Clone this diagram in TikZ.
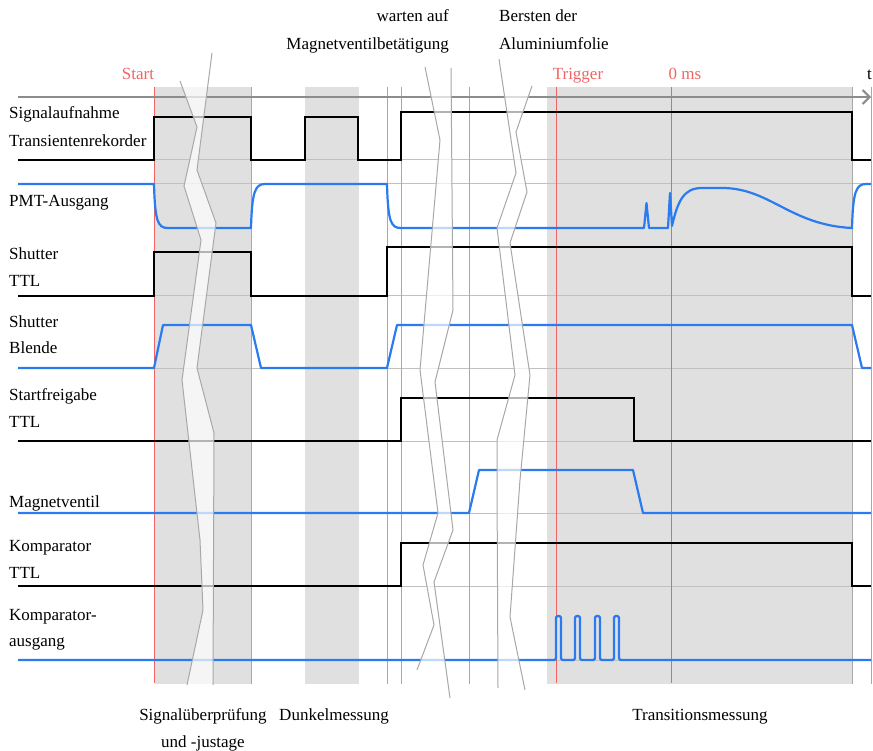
\documentclass[tikz,border=0pt]{standalone}
\usepackage{fontspec}
\setmainfont{Liberation Serif}
\usepackage{tikz}
\usetikzlibrary{arrows.meta}
\definecolor{sigblue}{RGB}{42, 122, 240}
\definecolor{phasegray}{RGB}{224, 224, 224}
\definecolor{markred}{RGB}{240, 100, 100}
\definecolor{linegray}{RGB}{168, 168, 168}
\definecolor{reflgray}{RGB}{192, 192, 192}

\begin{document}
\begin{tikzpicture}[x=1pt, y=-1pt, font=\fontsize{17}{20}\selectfont,
  ttl/.style={line width=2.2pt, black},
  analog/.style={line width=2.2pt, sigblue, line join=round},
  refline/.style={line width=1pt, reflgray},
  vline/.style={line width=1pt, linegray},
  breakband/.style={fill=white, fill opacity=0.7},
  breakline/.style={line width=1pt, linegray},
  sig/.style={anchor=base west, inner sep=0pt},
  timemark/.style={markred, anchor=base, inner sep=0pt},
  phase/.style={anchor=base, inner sep=0pt}]
\useasboundingbox (0,0) rectangle (873,751);

% Phases
\fill[phasegray] (155,87) rectangle (251,684);
\fill[phasegray] (305,87) rectangle (359,684);
\fill[phasegray] (547,87) rectangle (852,684);

% Reference levels and time marks
\foreach \y in {160,184,296,368,441,513,586,660}
  \draw[refline] (18,\y) -- (871,\y);
\foreach \x in {251,387,401,469,852,871}
  \draw[vline] (\x,87) -- (\x,684);
\foreach \x in {154,556,671}
  \draw[markred, line width=1pt] (\x,87) -- (\x,683);

% Time axis
\draw[line width=2pt, gray!90, -{Straight Barb[length=7pt,width=14pt]}] (18,97) -- (871,97);

% Signals
\draw[ttl] (18,160) -- (154,160) -- (154,117) -- (251,117) -- (251,160) -- (305,160)
  -- (305,117) -- (358,117) -- (358,160) -- (401,160) -- (401,112) -- (852,112)
  -- (852,160) -- (871,160);
\draw[analog] (18,184) -- (154,184) .. controls (155,222) and (158,228) .. (168,228)
  -- (251,228) .. controls (252,192) and (255,184) .. (265,184) -- (387,184)
  .. controls (388,222) and (391,228) .. (401,228) -- (644,228) -- (646.5,203)
  -- (649,228) -- (668,228) -- (670,193) -- (672,226)
  .. controls (678,200) and (684,188) .. (702,188) -- (722,188)
  .. controls (770,188) and (790,225) .. (852,228)
  .. controls (853,192) and (856,184) .. (866,184) -- (871,184);
\draw[ttl] (18,296) -- (154,296) -- (154,252) -- (251,252) -- (251,296) -- (387,296)
  -- (387,247) -- (852,247) -- (852,296) -- (871,296);
\draw[analog] (18,368) -- (154,368) -- (163,325) -- (251,325) -- (261,368) -- (387,368)
  -- (397,325) -- (852,325) -- (862,368) -- (871,368);
\draw[ttl] (18,441) -- (401,441) -- (401,398) -- (634,398) -- (634,441) -- (871,441);
\draw[analog] (18,513) -- (469,513) -- (479,470) -- (633,470) -- (643,513) -- (871,513);
\draw[ttl] (18,586) -- (401,586) -- (401,543) -- (852,543) -- (852,586) -- (871,586);
\draw[analog, rounded corners=1.5pt] (18,660)
  \foreach \p in {556,575,595,614} { -- (\p,660) -- (\p,616) -- ({\p+5},616) -- ({\p+5},660) }
  -- (871,660);

% Axis breaks
\fill[breakband] (180,81) -- (197,127) -- (184,186) -- (201,240) -- (182,380) -- (200,540)
  -- (203,610) -- (187,685) -- (213,685) -- (214,433) -- (197,368) -- (216,223)
  -- (197,170) -- (212,53) -- cycle;
\draw[breakline] (180,81) -- (197,127) -- (184,186) -- (201,240) -- (182,380) -- (200,540)
  -- (203,610) -- (187,685);
\draw[breakline] (212,53) -- (197,170) -- (216,223) -- (197,368) -- (214,433) -- (213,685);

\fill[breakband] (425,67) -- (440,140) -- (420,370) -- (438,513) -- (423,565) -- (434,625)
  -- (417,670) -- (450,698) -- (434,582) -- (453,530) -- (435,382) -- (453,310)
  -- (451,68) -- cycle;
\draw[breakline] (425,67) -- (440,140) -- (420,370) -- (438,513) -- (423,565) -- (434,625)
  -- (417,670);
\draw[breakline] (451,68) -- (453,310) -- (435,382) -- (453,530) -- (434,582) -- (450,698);

\fill[breakband] (499,59) -- (516,173) -- (497,228) -- (515,375) -- (497,440) -- (497,480)
  -- (498,688) -- (525,690) -- (510,617) -- (520,480) -- (530,375) -- (510,243)
  -- (527,192) -- (516,132) -- (532,86) -- cycle;
\draw[breakline] (499,59) -- (516,173) -- (497,228) -- (515,375) -- (497,440) -- (497,480)
  -- (498,688);
\draw[breakline] (532,86) -- (516,132) -- (527,192) -- (510,243) -- (530,375) -- (520,480)
  -- (510,617) -- (525,690);

% Signal names
\node[sig] (rec1) at (9,119) {Signalaufnahme};
\node[sig] (rec2) at (9,147) {Transientenrekorder};
\node[sig] (pmt) at (9,207) {PMT-Ausgang};
\node[sig] (shttl1) at (9,260) {Shutter};
\node[sig] (shttl2) at (9,287) {TTL};
\node[sig] (shbl1) at (9,328) {Shutter};
\node[sig] (shbl2) at (9,354) {Blende};
\node[sig] (sf1) at (9,400) {Startfreigabe};
\node[sig] (sf2) at (9,427) {TTL};
\node[sig] (mv) at (9,507) {Magnetventil};
\node[sig] (kt1) at (9,551) {Komparator};
\node[sig] (kt2) at (9,578) {TTL};
\node[sig] (ka1) at (9,620) {Komparator-};
\node[sig] (ka2) at (9,646) {ausgang};

% Time marks
\node[timemark] (start) at (138,80) {Start};
\node[timemark] (trigger) at (578,80) {Trigger};
\node[timemark] (zero) at (685,80) {0 ms};
\node[anchor=base west, inner sep=0pt] (taxis) at (867,80) {t};

% Events
\node[anchor=base east, inner sep=0pt] (wait1) at (449,22) {warten auf};
\node[anchor=base east, inner sep=0pt] (wait2) at (449,50) {Magnetventilbetätigung};
\node[anchor=base west, inner sep=0pt] (burst1) at (499,22) {Bersten der};
\node[anchor=base west, inner sep=0pt] (burst2) at (499,50) {Aluminiumfolie};

% Phase names
\node[phase] (check1) at (203,720) {Signalüberprüfung};
\node[phase] (check2) at (203,747) {und -justage};
\node[phase] (dark) at (334,720) {Dunkelmessung};
\node[phase] (trans) at (700,720) {Transitionsmessung};
\end{tikzpicture}
\end{document}
